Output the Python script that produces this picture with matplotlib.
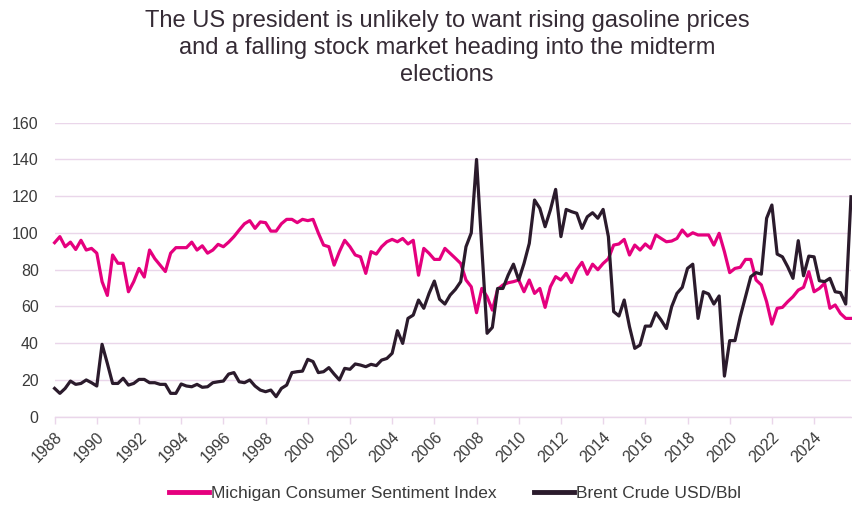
import numpy as np
import matplotlib
matplotlib.use("Agg")
import matplotlib.pyplot as plt

start_year = 1988
michigan = [
    94.7, 98, 92.5, 95,
    91, 96, 90.7, 91.6,
    89, 73.5, 66, 88,
    83.5, 83.5, 68, 73.5,
    80.7, 76, 90.7, 86,
    82.5, 79, 89, 92,
    92, 92, 95, 90.7,
    93, 89, 90.7, 93.8,
    92.5, 95, 98, 101.6,
    105, 106.7, 102.5, 106,
    105.6, 101, 101, 105,
    107.4, 107.4, 105.6, 107.4,
    106.7, 107.4, 100, 93.4,
    92.5, 82.5, 89.8, 96,
    92.5, 88, 87, 78,
    89.8, 88.5, 92.5, 95.2,
    96.5, 95.2, 97, 94,
    96, 77, 91.6, 88.9,
    85.6, 85.6, 91.6, 88.9,
    86.2, 83.4, 74.4, 70.7,
    56.6, 69.8, 65.3, 58,
    69.3, 71.7, 72.9, 73.5,
    74.4, 68, 74.4, 67.1,
    69.8, 59.5, 70.7, 76.2,
    74.4, 78, 73, 80,
    84, 77.5, 83, 80,
    83.4, 86, 93.4, 94,
    96.5, 88, 93.4, 90.7,
    94, 91.6, 98.9, 97,
    95.2, 95.6, 97, 101.6,
    98.3, 100.1, 98.9, 98.9,
    98.9, 93.4, 99.8, 89.8,
    78.4, 80.7, 81.3, 85.6,
    85.6, 74.4, 71.7, 62.6,
    50.4, 59, 59.5, 62.6,
    65.3, 68.9, 70.4, 78.9,
    68, 69.8, 72.6, 59,
    60.8, 56.2, 53.5, 53.5,
]
brent = [
    15.4, 12.7, 15.4, 19.4,
    17.6, 18.1, 20, 18.5,
    16.7, 39.4, 29, 18.1,
    18.1, 20.9, 17.2, 18.1,
    20.3, 20.3, 18.5, 18.5,
    17.6, 17.6, 12.7, 12.7,
    17.8, 16.7, 16.3, 17.6,
    16, 16.3, 18.5, 19,
    19.4, 23.2, 24, 19,
    18.5, 20, 16.7, 14.5,
    13.6, 14.5, 10.9, 15.4,
    17.2, 24, 24.5, 24.8,
    31.2, 30, 24, 24.5,
    26.7, 23.2, 20, 26.3,
    25.8, 28.7, 28.1, 27.2,
    28.5, 27.8, 30.8, 31.7,
    34.5, 46.8, 39.9, 53.5,
    55.3, 63.5, 59, 67.1,
    73.8, 63.9, 61.3, 66.2,
    69.3, 73.5, 92.5, 100,
    140, 92, 45.4, 48.6,
    69.8, 69.8, 77.1, 83,
    74.4, 83.4, 94.3, 117.9,
    113.4, 103.4, 112.5, 123.7,
    98, 112.8, 111.6, 110.7,
    102.5, 108.8, 111, 108,
    112.8, 98, 57.2, 54.8,
    63.5, 49, 37.2, 39,
    49.3, 49.3, 56.6, 52.6,
    48, 59.9, 67.1, 70.4,
    80.7, 83, 53.5, 68,
    66.8, 61.3, 65.7, 22.1,
    41.4, 41.4, 54.4, 65.3,
    76.2, 78.4, 77.6, 108,
    115.2, 88.5, 87, 81.6,
    75.3, 95.8, 76.7, 87.4,
    87, 74, 73.5, 75.3,
    68, 67.5, 61.3, 119.7,
]
x_tick_years = list(range(1988, 2025, 2))
y_ticks = [0, 20, 40, 60, 80, 100, 120, 140, 160]
series_names = ["Michigan Consumer Sentiment Index", "Brent Crude USD/Bbl"]
title = ("The US president is unlikely to want rising gasoline prices\n"
         "and a falling stock market heading into the midterm\n"
         "elections")

plt.rcParams['font.family'] = ['Liberation Sans', 'DejaVu Sans']

x = start_year + np.arange(len(michigan)) * 0.25

fig = plt.figure(figsize=(8.52, 5.05), dpi=100)
ax = fig.add_axes([54.6 / 852, (505 - 416.7) / 505, (851 - 54.6) / 852, (416.7 - 122.7) / 505])

pink = "#E5007E"
dark = "#2B1B2C"
grid_c = "#EAD6EA"
text_c = "#3A3A3A"

ax.plot(x, michigan, color=pink, lw=2.3, label=series_names[0], solid_joinstyle='round', clip_on=False, zorder=3)
ax.plot(x, brent, color=dark, lw=2.3, label=series_names[1], solid_joinstyle='round', clip_on=False, zorder=4)

ax.set_xlim(x[0], x[-1])
ax.set_ylim(0, 160)
ax.set_yticks(y_ticks)
ax.set_yticklabels([str(v) for v in y_ticks])
ax.set_xticks(x_tick_years)
ax.set_xticklabels([str(v) for v in x_tick_years], rotation=45, ha='right', va='top', rotation_mode='anchor')

for s in ax.spines.values():
    s.set_visible(False)
ax.spines['bottom'].set_visible(True)
ax.spines['bottom'].set_color(grid_c)
ax.spines['bottom'].set_linewidth(1.0)

ax.yaxis.grid(True, color=grid_c, lw=1.0)
ax.set_axisbelow(True)
ax.tick_params(axis='y', length=0, pad=11.5, labelsize=11.5, labelcolor=text_c)
ax.tick_params(axis='x', length=5, width=1, color=grid_c, pad=4, labelsize=11.5, labelcolor=text_c)

fig.text(447 / 852, 1 - 10 / 505, title, ha='center', va='top', fontsize=17, color="#352B35", linespacing=1.3)

leg = fig.legend(loc='center', bbox_to_anchor=(455 / 852, 12 / 505), ncol=2, frameon=False,
                 fontsize=12.5, handlelength=2.3, handletextpad=0.1, columnspacing=2.2)
for line in leg.get_lines():
    line.set_linewidth(3.5)
for t in leg.get_texts():
    t.set_color(text_c)

fig.savefig("out.png", dpi=100)
